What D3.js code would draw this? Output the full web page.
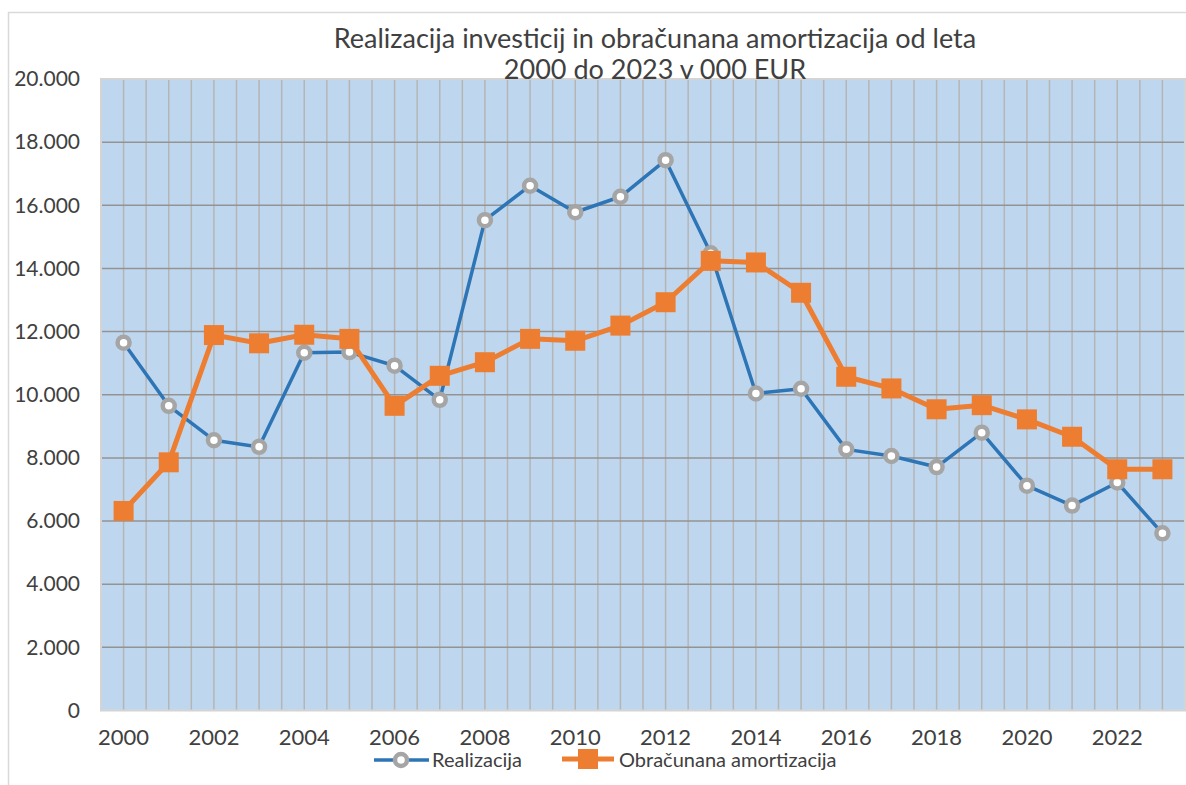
<!DOCTYPE html>
<html>
<head>
<meta charset="utf-8">
<script src="https://cdn.jsdelivr.net/npm/d3@7/dist/d3.min.js"></script>
<style>
  html, body { margin: 0; padding: 0; background: #ffffff; }
  svg { display: block; font-family: Lato, "Open Sans", sans-serif; }
</style>
</head>
<body>
<svg id="chart" width="1186" height="785"></svg>
<script>
// Years on the category axis
const years = [2000, 2001, 2002, 2003, 2004, 2005, 2006, 2007, 2008, 2009, 2010, 2011,
               2012, 2013, 2014, 2015, 2016, 2017, 2018, 2019, 2020, 2021, 2022, 2023];

// Realized investments, in 000 EUR
const realizacija = [11650, 9650, 8560, 8350, 11330, 11350, 10920, 9840, 15530, 16620, 15780, 16270,
                     17430, 14480, 10040, 10190, 8270, 8060, 7710, 8800, 7120, 6490, 7220, 5610];

// Calculated depreciation, in 000 EUR
const amortizacija = [6320, 7860, 11890, 11630, 11900, 11770, 9650, 10600, 11030, 11770, 11710, 12190,
                      12930, 14240, 14190, 13230, 10570, 10200, 9540, 9670, 9220, 8670, 7640, 7640];

// Value axis ticks and labelled years
const yTicks = [0, 2000, 4000, 6000, 8000, 10000, 12000, 14000, 16000, 18000, 20000];
const xLabelYears = [2000, 2002, 2004, 2006, 2008, 2010, 2012, 2014, 2016, 2018, 2020, 2022];

const titleLines = ["Realizacija investicij in obračunana amortizacija od leta", "2000 do 2023 v 000 EUR"];
const seriesNames = ["Realizacija", "Obračunana amortizacija"];

const svg = d3.select("#chart");
const plot = { left: 101, right: 1185, top: 79, bottom: 710.5 };

const locale = d3.formatLocale({ decimal: ",", thousands: ".", grouping: [3], currency: ["", "€"] });
const fmt = locale.format(",d");

const x = d3.scaleBand().domain(years).range([plot.left, plot.right]).paddingInner(0).paddingOuter(0);
const cx = d => x(d) + x.bandwidth() / 2;
const y = d3.scaleLinear().domain([0, 20000]).range([plot.bottom, plot.top]);

// Outer chart frame
svg.append("rect")
  .attr("x", 8.5).attr("y", 12.5).attr("width", 1200).attr("height", 800)
  .attr("fill", "#ffffff").attr("stroke", "#d9d9d9").attr("stroke-width", 1.5);

// Plot area background
svg.append("rect")
  .attr("x", plot.left).attr("y", plot.top)
  .attr("width", plot.right - plot.left).attr("height", plot.bottom - plot.top)
  .attr("fill", "#bfd7ee");

// Vertical gridlines at category edges and centres
const vLines = [];
years.forEach(yr => { vLines.push(x(yr)); vLines.push(cx(yr)); });
svg.append("g").selectAll("line").data(vLines.slice(1)).join("line")
  .attr("x1", d => d).attr("x2", d => d)
  .attr("y1", plot.top).attr("y2", plot.bottom)
  .attr("stroke", "#b5b5b5").attr("stroke-width", 1.5);

// Horizontal gridlines
svg.append("g").selectAll("line").data(yTicks.slice(1, -1)).join("line")
  .attr("x1", plot.left).attr("x2", plot.right)
  .attr("y1", d => y(d)).attr("y2", d => y(d))
  .attr("stroke", "#939393").attr("stroke-width", 1.5);

// Plot area border
svg.append("rect")
  .attr("x", plot.left).attr("y", plot.top)
  .attr("width", plot.right - plot.left).attr("height", plot.bottom - plot.top)
  .attr("fill", "none").attr("stroke", "#d4d4d4").attr("stroke-width", 2);

// Y axis labels
const yAxis = d3.axisLeft(y).tickValues(yTicks).tickFormat(d => d === 0 ? "0" : fmt(d)).tickSize(0).tickPadding(21);
const gy = svg.append("g").attr("transform", `translate(${plot.left},0)`).call(yAxis);
gy.select(".domain").remove();
gy.selectAll("text").attr("font-size", 21).attr("fill", "#404040").attr("font-family", "Lato, sans-serif");

// X axis labels (every second year)
const xAxis = d3.axisBottom(x).tickValues(xLabelYears).tickSize(0).tickPadding(19);
const gx = svg.append("g").attr("transform", `translate(0,${plot.bottom})`).call(xAxis);
gx.select(".domain").remove();
gx.selectAll("text").attr("font-size", 22).attr("fill", "#404040").attr("font-family", "Lato, sans-serif");

// Title
svg.append("g").selectAll("text").data(titleLines).join("text")
  .attr("x", 655).attr("y", (d, i) => 48 + i * 31)
  .attr("text-anchor", "middle")
  .attr("font-size", 27).attr("fill", "#404040")
  .text(d => d);

// Lines
const line = d3.line().x((d, i) => cx(years[i])).y(d => y(d));

svg.append("path").datum(realizacija)
  .attr("d", line).attr("fill", "none")
  .attr("stroke", "#2e75b6").attr("stroke-width", 3.5).attr("stroke-linejoin", "round");

svg.append("g").selectAll("circle").data(realizacija).join("circle")
  .attr("cx", (d, i) => cx(years[i])).attr("cy", d => y(d)).attr("r", 6)
  .attr("fill", "#ffffff").attr("stroke", "#a5a5a5").attr("stroke-width", 4.5);

svg.append("path").datum(amortizacija)
  .attr("d", line).attr("fill", "none")
  .attr("stroke", "#ed7d31").attr("stroke-width", 5).attr("stroke-linejoin", "round");

const sq = 20;
svg.append("g").selectAll("rect").data(amortizacija).join("rect")
  .attr("x", (d, i) => cx(years[i]) - sq / 2).attr("y", d => y(d) - sq / 2)
  .attr("width", sq).attr("height", sq).attr("fill", "#ed7d31");

// Legend
const lg = svg.append("g");
lg.append("line").attr("x1", 374).attr("x2", 429).attr("y1", 760).attr("y2", 760)
  .attr("stroke", "#2e75b6").attr("stroke-width", 3.5);
lg.append("circle").attr("cx", 401).attr("cy", 760).attr("r", 6)
  .attr("fill", "#ffffff").attr("stroke", "#a5a5a5").attr("stroke-width", 4.5);
lg.append("text").attr("x", 432).attr("y", 767).attr("font-size", 20).attr("fill", "#404040").text(seriesNames[0]);

lg.append("line").attr("x1", 562).attr("x2", 614).attr("y1", 759).attr("y2", 759)
  .attr("stroke", "#ed7d31").attr("stroke-width", 5);
lg.append("rect").attr("x", 578).attr("y", 749).attr("width", 20).attr("height", 20).attr("fill", "#ed7d31");
lg.append("text").attr("x", 619).attr("y", 767).attr("font-size", 20).attr("fill", "#404040").text(seriesNames[1]);
</script>
</body>
</html>
